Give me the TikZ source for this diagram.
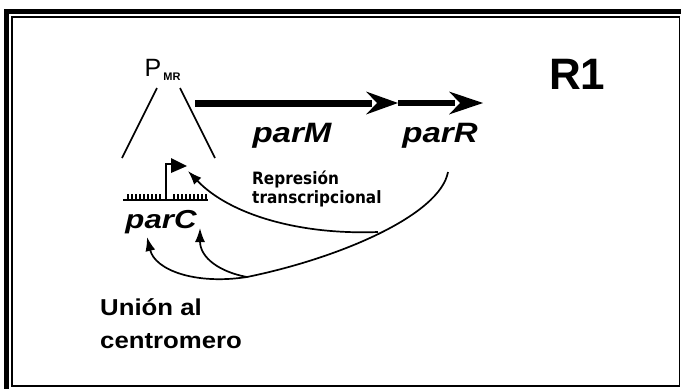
\documentclass[tikz,border=0pt]{standalone}
\usepackage{fontspec}
\usepackage{graphicx}
\setmainfont{Liberation Sans}
\newfontfamily\repfont{DejaVu Sans}
\usetikzlibrary{arrows.meta}
\tikzset{
  frameouter/.style={line width=5pt},
  frameinner/.style={line width=1.5pt},
  thinline/.style={line width=1.6pt},
  curvearrow/.style={line width=1.7pt, -{Latex[length=14pt,width=10pt]}},
  genelabel/.style={inner sep=0pt, anchor=base, font=\bfseries\itshape\fontsize{28}{30}\selectfont},
  smalllabel/.style={inner sep=0pt, anchor=base west, font=\repfont\bfseries\fontsize{17}{19}\selectfont},
  biglabel/.style={inner sep=0pt, anchor=base west, font=\bfseries\fontsize{23}{26}\selectfont},
}
\begin{document}
\begin{tikzpicture}[x=1pt,y=-1pt]
\useasboundingbox (0,0) rectangle (681,389);
% frame
\draw[frameouter] (5,11.5) -- (681,11.5);
\draw[frameouter] (6.5,9) -- (6.5,389);
\draw[frameinner] (12,17) rectangle (679.5,386);
% promoter lines
\draw[thinline] (157,88) -- (122,158);
\draw[thinline] (180,88) -- (215,158);
% text
\node[inner sep=0pt, anchor=base] (P) at (153,76) {\fontsize{25}{27}\selectfont P};
\node[inner sep=0pt, anchor=base] (MR) at (172,80) {\bfseries\fontsize{11}{12}\selectfont MR};
\node[genelabel] (parM) at (292,142) {\scalebox{1.18}[1]{parM}};
\node[genelabel] (parR) at (440,142) {\scalebox{1.18}[1]{parR}};
\node[genelabel, font=\bfseries\itshape\fontsize{26}{28}\selectfont] (parC) at (161,228) {\scalebox{1.2}[1]{parC}};
\node[smalllabel] (rep1) at (252,184) {\scalebox{0.9}[1]{Represión}};
\node[smalllabel] (rep2) at (252,203) {\scalebox{0.9}[1]{transcripcional}};
\node[biglabel] (u1) at (100,315) {\scalebox{1.12}[1]{Unión al}};
\node[biglabel] (u2) at (100,348) {\scalebox{1.12}[1]{centromero}};
\node[inner sep=0pt, anchor=base west, font=\bfseries\fontsize{44}{46}\selectfont] (R1) at (549,89) {R1};
% gene arrow
\coordinate (g0) at (195,103);
\coordinate (g1) at (398,103);
\coordinate (g2) at (483,103);
\draw[line width=7pt] (g0) -- (372,103);
\fill (366,91.5) -- (g1) -- (366,114.5) -- (377,103) -- cycle;
\draw[line width=6pt] (g1) -- (455,103);
\fill (449,91.5) -- (g2) -- (449,114.5) -- (460,103) -- cycle;
% parC site
\draw[line width=2pt] (123,200) -- (208,200);
\foreach \x in {128,132,...,160} \draw[line width=1.3pt] (\x,194) -- (\x,200);
\foreach \x in {174,178,...,206} \draw[line width=1.3pt] (\x,194) -- (\x,200);
% flag
\coordinate (fl0) at (166,200);
\coordinate (fl1) at (166,164);
\coordinate (fl2) at (187,166);
\draw[thinline] (fl0) -- (fl1) -- (173,164);
\fill (171,158) -- (fl2) -- (171,173) -- cycle;
% curves
\coordinate (s) at (448,172);
\coordinate (br1) at (378,232);
\coordinate (br2) at (247,277);
\coordinate (tRep) at (188,171);
\coordinate (tC1) at (147,237);
\coordinate (tC2) at (200,228);
\draw[line width=1.7pt] (s) .. controls (440,215) and (340,258) .. (br2);
\draw[curvearrow] (br1) .. controls (300,235) and (230,215) .. (tRep);
\draw[curvearrow] (br2) .. controls (195,285) and (155,270) .. (tC1);
\draw[curvearrow] (br2) .. controls (220,272) and (200,258) .. (tC2);
\end{tikzpicture}
\end{document}
